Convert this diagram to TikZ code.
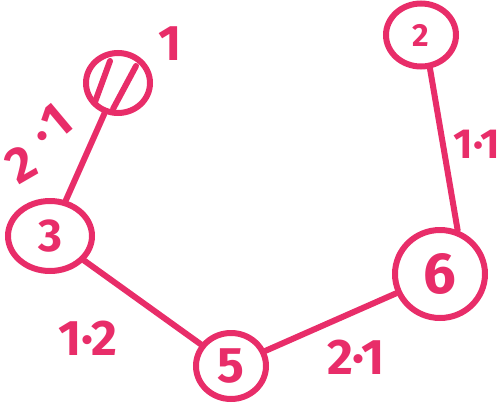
\documentclass[tikz,border=0pt]{standalone}
\usepackage{fontspec}
\setmainfont{Fira Sans}
\usetikzlibrary{shapes.geometric}
\definecolor{marker}{RGB}{232,45,105}
\tikzset{
  vert/.style={draw=marker, line width=6pt, ellipse, inner sep=0pt, text=marker, font=\bfseries\fontsize{50}{50}\selectfont},
  edge/.style={draw=marker, line width=6pt, line cap=round},
  wlabel/.style={text=marker, font=\bfseries\fontsize{50}{50}\selectfont, inner sep=0pt}
}
\begin{document}
\begin{tikzpicture}[x=1pt,y=-1pt]
\useasboundingbox (0,0) rectangle (501,402);
\node[vert, minimum width=64pt, minimum height=60pt] (n1) at (118,83) {};
\node[vert, minimum width=70pt, minimum height=63pt] (n2) at (421,35) {\fontsize{32}{32}\selectfont 2};
\node[vert, minimum width=84pt, minimum height=70pt] (n3) at (50,236) {\fontsize{46}{46}\selectfont 3};
\node[vert, minimum width=70pt, minimum height=66pt] (n5) at (231,366) {5};
\node[vert, minimum width=90pt, minimum height=88pt] (n6) at (440,274) {\fontsize{58}{58}\selectfont 6};
% hatch lines in node 1
\draw[edge] (110,61) -- (95,102);
\draw[edge] (136,66) -- (113,109);
\node[wlabel] (l1) at (170,44) {1};
% edges
\draw[edge] (n1) -- (n3);
\draw[edge] (n2.-75) -- (n6.68);
\draw[edge] (n3) -- (n5);
\draw[edge] (n5) -- (n6);
% weights
\node[wlabel, rotate=30] (w13a) at (21,164) {2};
\node[wlabel, text height=10pt, text depth=0pt] (w13b) at (42,146) {·};
\node[wlabel, rotate=40] (w13c) at (57,121) {1};
\node[wlabel, font=\bfseries\fontsize{42}{42}\selectfont] (w26) at (477,144) {1·1};
\node[wlabel] (w35) at (88,338) {1·2};
\node[wlabel] (w56) at (356,357) {2·1};
\end{tikzpicture}
\end{document}
